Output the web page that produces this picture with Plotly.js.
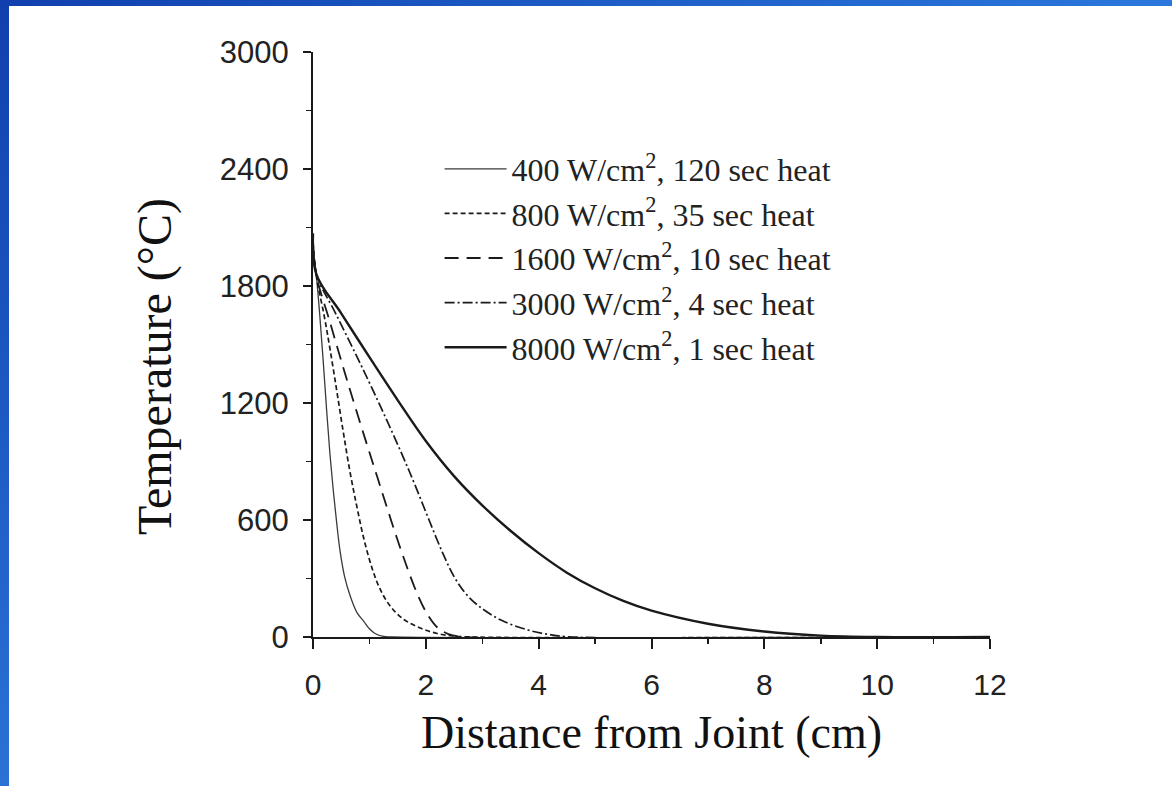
<!DOCTYPE html>
<html>
<head>
<meta charset="utf-8">
<script src="https://cdn.plot.ly/plotly-3.0.1.min.js"></script>
<style>
  html, body { margin: 0; padding: 0; background: #ffffff; }
  #wrap { position: relative; width: 1172px; height: 786px; overflow: hidden; background: #ffffff; }
  #chart { position: absolute; left: 0; top: 0; width: 1172px; height: 786px; }
  .barTop { position: absolute; left: 0; top: 0; width: 1172px; height: 6px;
            background: linear-gradient(90deg, #1140ae 0%, #1d5cc4 50%, #2b78dc 100%); }
  .barLeft { position: absolute; left: 0; top: 0; width: 9px; height: 786px;
             background: linear-gradient(180deg, #1140ae 0%, #1d58c2 50%, #2a72d6 100%); }
</style>
</head>
<body>
<div id="wrap">
  <div id="chart"></div>
  <div class="barTop"></div>
  <div class="barLeft"></div>
</div>
<script>
// Distance from joint (cm) and temperature (°C) for each heating condition
const x400  = [0, 0.06, 0.12, 0.18, 0.24, 0.3, 0.36, 0.42, 0.48, 0.56, 0.66, 0.78, 0.9, 1.0, 1.1, 1.25, 1.4, 12];
const y400  = [1990, 1850, 1650, 1420, 1170, 940, 750, 585, 440, 310, 210, 125, 80, 42, 18, 3, 0, 0];

const x800  = [0, 0.06, 0.2, 0.3, 0.42, 0.54, 0.66, 0.78, 0.9, 1.05, 1.19, 1.37, 1.61, 1.91, 2.2, 2.5, 2.8, 12];
const y800  = [2020, 1850, 1645, 1480, 1265, 1045, 840, 665, 505, 350, 245, 158, 90, 45, 18, 5, 0, 0];

const x1600 = [0, 0.06, 0.3, 0.6, 0.93, 1.14, 1.31, 1.49, 1.67, 1.85, 2.03, 2.2, 2.4, 2.7, 12];
const y1600 = [2040, 1855, 1615, 1320, 1011, 820, 665, 505, 355, 220, 115, 50, 15, 0, 0];

const x3000 = [0, 0.06, 0.4, 0.8, 1.2, 1.58, 1.8, 2.05, 2.3, 2.5, 2.7, 2.92, 3.33, 3.81, 4.2, 4.6, 12];
const y3000 = [2050, 1860, 1660, 1425, 1180, 935, 785, 605, 430, 310, 225, 163, 87, 36, 12, 0, 0];

const x8000 = [0, 0.06, 0.5, 1, 1.5, 2, 2.5, 3, 3.5, 4, 4.5, 5, 5.5, 6, 7, 8, 9, 10, 12];
const y8000 = [2070, 1860, 1660, 1435, 1215, 1005, 825, 675, 545, 430, 330, 250, 185, 135, 68, 28, 7, 0, 0];

const seriesNames = [
  "400 W/cm<sup>2</sup>, 120 sec heat",
  "800 W/cm<sup>2</sup>, 35 sec heat",
  "1600 W/cm<sup>2</sup>, 10 sec heat",
  "3000 W/cm<sup>2</sup>, 4 sec heat",
  "8000 W/cm<sup>2</sup>, 1 sec heat"
];

const xTicks = [0, 2, 4, 6, 8, 10, 12];
const yTicks = [0, 600, 1200, 1800, 2400, 3000];

const ink = "#1a1a1a";
const serif = "Liberation Serif, Times New Roman, serif";
const sans = "Liberation Sans, Arial, sans-serif";

function tr(x, y, name, color, width, dash) {
  return {
    x: x, y: y, name: name, type: "scatter", mode: "lines",
    line: { color: color, width: width, dash: dash, shape: "spline", smoothing: 1 },
    hoverinfo: "skip"
  };
}

const data = [
  tr(x400,  y400,  seriesNames[0], "#3a3a3a", 1.3, "solid"),
  tr(x800,  y800,  seriesNames[1], ink, 1.7, "5px,3px"),
  tr(x1600, y1600, seriesNames[2], ink, 1.8, "14px,8px"),
  tr(x3000, y3000, seriesNames[3], ink, 1.7, "10px,3px,2px,3px"),
  tr(x8000, y8000, seriesNames[4], ink, 2.4, "solid")
];

const layout = {
  width: 1172, height: 786,
  margin: { l: 313, r: 182, t: 52, b: 149, pad: 0 },
  paper_bgcolor: "#ffffff",
  plot_bgcolor: "#ffffff",
  showlegend: true,
  legend: {
    x: 0.187, y: 0.847, xanchor: "left", yanchor: "top",
    bgcolor: "rgba(0,0,0,0)", borderwidth: 0,
    font: { family: serif, size: 32, color: "#222" },
    itemwidth: 62, tracegroupgap: 0
  },
  xaxis: {
    range: [0, 12], tickvals: xTicks, ticktext: xTicks.map(String),
    showgrid: false, zeroline: false,
    showline: true, linecolor: ink, linewidth: 2,
    ticks: "outside", ticklen: 10, tickwidth: 2, tickcolor: ink,
    minor: { dtick: 1, ticks: "outside", ticklen: 5, tickwidth: 1.5, tickcolor: ink },
    ticklabelstandoff: 10,
    tickfont: { family: sans, size: 30, color: "#222" },
    title: { text: "Distance from Joint (cm)", standoff: 16,
             font: { family: serif, size: 46, color: "#111" } },
    fixedrange: true
  },
  yaxis: {
    range: [0, 3000], tickvals: yTicks, ticktext: yTicks.map(String),
    showgrid: false, zeroline: false,
    showline: true, linecolor: ink, linewidth: 2,
    ticks: "outside", ticklen: 8, tickwidth: 2, tickcolor: ink,
    minor: { dtick: 300, ticks: "outside", ticklen: 5, tickwidth: 1.5, tickcolor: ink },
    ticklabelstandoff: 8,
    tickfont: { family: sans, size: 31, color: "#222" },
    fixedrange: true
  },
  annotations: [{
    text: "Temperature (°C)", textangle: -90, showarrow: false,
    xref: "paper", yref: "paper", x: -0.2334, y: 0.4632,
    xanchor: "center", yanchor: "middle",
    font: { family: serif, size: 48, color: "#111" }
  }]
};

Plotly.newPlot("chart", data, layout, { displayModeBar: false, staticPlot: true });
</script>
</body>
</html>
